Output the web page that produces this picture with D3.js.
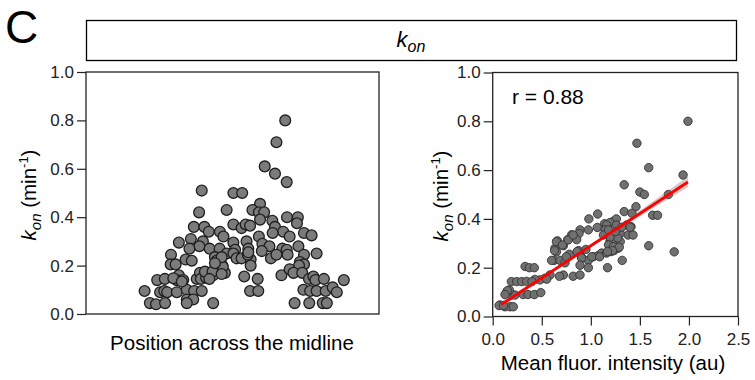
<!DOCTYPE html>
<html>
<head>
<meta charset="utf-8">
<script src="https://cdn.jsdelivr.net/npm/d3@7"></script>
<style>
  body { margin: 0; background: #fff; }
  svg { font-family: "Liberation Sans", Arial, sans-serif; }
</style>
</head>
<body>
<svg id="chart" width="755" height="380"></svg>
<script>
// left panel: position across the midline (arbitrary units) vs kon
var leftPos = [18,15,11,14.5,18.5,-10.5,0.3,3.3,-2,-11.4,9.4,6.8,9,10.8,9.4,18.6,22.3,22,13.6,14.5,17.3,13.7,19.5,24.4,27,
  -13.2,-9.6,-8.1,0.3,3.1,4.5,6,-4.3,-3.1,-14.2,-18.3,-10.1,-11.3,0.3,4.8,9,10.2,12.6,-14.7,-7.8,-4.4,-2,0.9,5.4,10,17,18.5,22.5,
  -21,-16,-13.9,-6,-5.4,0.3,1.4,3.1,6.2,5.2,13.1,15,18.8,24.4,28.7,23,-21.1,-19.4,-3.5,6.2,24.4,22.7,
  -25.7,-23.1,-18.3,-19,-16.8,-12.2,-11.1,-9.1,-10.8,-9,-6.6,-2.6,-3.3,4,8.6,16.7,19.5,20.8,23.8,26.1,27.6,28.3,31.2,38,
  -30,-24.7,-23.3,-22.3,-19,-15.6,-13.1,-10.5,-15.6,-13.4,6,8.8,24.2,26.5,28.7,31.8,34.2,35.6,
  -28.2,-26.1,-23,-15.6,-6.6,21.2,26.2,30.8,32.2,
  -9.4,-6.8,-7.9,-3.7,-3.7,-6,5.4,-20.2,-17.3];
var leftKon = [0.80,0.71,0.61,0.58,0.545,0.51,0.50,0.50,0.43,0.42,0.455,0.43,0.42,0.42,0.39,0.40,0.40,0.375,0.385,0.36,0.34,0.335,0.32,0.335,0.325,
  0.36,0.36,0.34,0.37,0.355,0.37,0.365,0.34,0.32,0.31,0.295,0.30,0.28,0.295,0.30,0.32,0.29,0.28,0.27,0.27,0.27,0.25,0.265,0.27,0.26,0.27,0.265,0.28,
  0.245,0.225,0.22,0.235,0.22,0.25,0.23,0.23,0.225,0.245,0.23,0.245,0.245,0.245,0.25,0.215,0.205,0.205,0.20,0.20,0.205,0.20,
  0.14,0.145,0.16,0.14,0.14,0.145,0.17,0.17,0.145,0.15,0.16,0.17,0.195,0.155,0.145,0.16,0.185,0.17,0.17,0.145,0.155,0.14,0.145,0.14,
  0.095,0.09,0.095,0.09,0.09,0.10,0.095,0.095,0.06,0.06,0.095,0.095,0.10,0.095,0.095,0.095,0.11,0.09,
  0.045,0.04,0.045,0.045,0.045,0.045,0.045,0.045,0.045,
  0.175,0.175,0.145,0.165,0.235,0.21,0.255,0.148,0.134];

// right panel: mean fluorescence intensity (au) vs kon
var rightFluor = [1.99,1.47,1.59,1.94,1.34,1.50,1.545,1.79,1.46,1.34,1.42,1.63,1.68,1.07,0.98,1.23,1.26,1.59,1.85,1.17,1.32,
  1.14,1.17,1.196,1.26,1.066,0.89,0.975,0.805,0.88,0.856,0.765,0.66,0.72,0.635,0.65,0.78,0.89,0.876,0.95,0.91,0.975,1.025,1.077,1.11,
  0.625,0.686,0.737,0.82,0.89,0.975,0.72,0.68,0.584,0.533,0.482,0.43,0.33,0.373,0.424,0.19,0.245,0.296,0.346,0.40,
  0.31,0.36,0.424,0.49,0.143,0.19,0.227,0.074,0.125,0.176,0.21,0.17,
  0.065,0.11,0.15,0.125,0.55,0.60,0.63,0.65,0.71,0.75,0.77,0.82,0.86,0.905,0.89,1.01,1.09,1.16,1.195,1.245,1.236,1.30,1.38,1.41,1.43,1.365,
  1.16,1.145,1.18,1.205,1.236,1.28,1.30,
  1.315,1.40,1.274,1.196,1.128,1.18,1.23,1.29,1.22,1.17,1.25,1.18];
var rightKon = [0.80,0.71,0.61,0.58,0.54,0.51,0.50,0.50,0.45,0.43,0.423,0.415,0.415,0.42,0.40,0.39,0.40,0.29,0.265,0.20,0.23,
  0.38,0.37,0.385,0.375,0.365,0.355,0.355,0.335,0.34,0.315,0.315,0.31,0.29,0.28,0.265,0.255,0.26,0.27,0.275,0.24,0.23,0.245,0.25,0.26,
  0.23,0.23,0.22,0.165,0.17,0.20,0.17,0.165,0.17,0.157,0.15,0.152,0.205,0.20,0.20,0.143,0.143,0.143,0.144,0.143,
  0.09,0.09,0.09,0.098,0.10,0.088,0.088,0.047,0.04,0.04,0.04,0.109,
  0.045,0.045,0.106,0.09,0.153,0.23,0.27,0.307,0.293,0.245,0.314,0.334,0.266,0.24,0.21,0.245,0.245,0.26,0.307,0.307,0.34,0.34,0.334,0.368,0.334,0.375,
  0.375,0.355,0.334,0.266,0.27,0.28,0.307,
  0.366,0.366,0.322,0.325,0.334,0.293,0.286,0.284,0.27,0.266,0.348,0.355];

var yTicks = [0.0, 0.2, 0.4, 0.6, 0.8, 1.0];
var xTicks = [0.0, 0.5, 1.0, 1.5, 2.0, 2.5];

// linear fit and its confidence band
var fitIntercept = 0.026, fitSlope = 0.264, fitRange = [0.085, 1.99];
var bandX    = [0.085, 0.5, 1.0, 1.5, 1.99];
var bandHalf = [0.013, 0.008, 0.007, 0.012, 0.022];
var rLabel = "r = 0.88";

var svg = d3.select("#chart");

// panel letter
svg.append("text").attr("x", 5).attr("y", 43)
  .attr("font-size", "46px").text("C");

// header box
svg.append("rect").attr("x", 86.5).attr("y", 20.5).attr("width", 650).attr("height", 40)
  .attr("fill", "none").attr("stroke", "#000").attr("stroke-width", 1.3);
var head = svg.append("text").attr("x", 411).attr("y", 47).attr("text-anchor", "middle")
  .attr("font-size", "22px");
head.append("tspan").attr("font-style", "italic").text("k");
head.append("tspan").attr("font-style", "italic").attr("font-size", "16px").attr("dy", 5).text("on");

function yTitle(g, x, y) {
  var t = g.append("text").attr("transform", "translate(" + x + "," + y + ") rotate(-90)")
    .attr("text-anchor", "middle").attr("font-size", "20.5px");
  t.append("tspan").attr("font-style", "italic").text("k");
  t.append("tspan").attr("font-style", "italic").attr("font-size", "15px").attr("dy", 5).text("on");
  t.append("tspan").attr("dy", -5).text(" (min");
  t.append("tspan").attr("font-size", "13px").attr("dy", -8).text("-1");
  t.append("tspan").attr("dy", 8).text(")");
}

function styleAxis(g) {
  g.select(".domain").remove();
  g.selectAll(".tick line").attr("stroke", "#222").attr("stroke-width", 1.2);
  g.selectAll(".tick text").attr("font-size", "17px").attr("fill", "#222")
    .attr("font-family", "Liberation Sans, Arial, sans-serif");
}

// ---------- left panel ----------
var xL = d3.scaleLinear().domain([-50, 50]).range([86, 379]);
var yL = d3.scaleLinear().domain([0, 1]).range([314, 72]);

svg.append("g").attr("transform", "translate(86,0)")
  .call(d3.axisLeft(yL).tickValues(yTicks).tickFormat(d3.format(".1f")).tickSize(9).tickPadding(3))
  .call(styleAxis);

svg.append("rect").attr("x", 86).attr("y", 72).attr("width", 293).attr("height", 242)
  .attr("fill", "none").attr("stroke", "#222").attr("stroke-width", 1.3);

svg.append("g").selectAll("circle").data(leftPos).enter().append("circle")
  .attr("cx", function(d) { return xL(d); })
  .attr("cy", function(d, i) { return yL(leftKon[i]); })
  .attr("r", 5.4)
  .attr("fill", "#7b7b7b").attr("stroke", "#1e1e1e").attr("stroke-width", 1.3);

yTitle(svg, 36, 195);
svg.append("text").attr("x", 232).attr("y", 350).attr("text-anchor", "middle")
  .attr("font-size", "20.5px").text("Position across the midline");

// ---------- right panel ----------
var xR = d3.scaleLinear().domain([0, 2.5]).range([492.7, 738]);
var yR = d3.scaleLinear().domain([0, 1]).range([316.5, 72.5]);

svg.append("g").attr("transform", "translate(492.7,0)")
  .call(d3.axisLeft(yR).tickValues(yTicks).tickFormat(d3.format(".1f")).tickSize(9).tickPadding(3))
  .call(styleAxis);
svg.append("g").attr("transform", "translate(0,316.5)")
  .call(d3.axisBottom(xR).tickValues(xTicks).tickFormat(d3.format(".1f")).tickSize(9).tickPadding(7))
  .call(styleAxis);

svg.append("rect").attr("x", 492.7).attr("y", 72.5).attr("width", 738 - 492.7).attr("height", 244)
  .attr("fill", "none").attr("stroke", "#222").attr("stroke-width", 1.3);

svg.append("g").selectAll("circle").data(rightFluor).enter().append("circle")
  .attr("cx", function(d) { return xR(d); })
  .attr("cy", function(d, i) { return yR(rightKon[i]); })
  .attr("r", 4.2)
  .attr("fill", "#707070").attr("stroke", "#333").attr("stroke-width", 0.9);

// confidence band
var band = d3.area()
  .x(function(d) { return xR(d); })
  .y0(function(d, i) { return yR(fitIntercept + fitSlope * d - bandHalf[i]); })
  .y1(function(d, i) { return yR(fitIntercept + fitSlope * d + bandHalf[i]); })
  .curve(d3.curveMonotoneX);
svg.append("path").datum(bandX).attr("d", band)
  .attr("fill", "rgba(150,100,100,0.35)");

svg.append("line")
  .attr("x1", xR(fitRange[0])).attr("y1", yR(fitIntercept + fitSlope * fitRange[0]))
  .attr("x2", xR(fitRange[1])).attr("y2", yR(fitIntercept + fitSlope * fitRange[1]))
  .attr("stroke", "#ff0000").attr("stroke-width", 2.8);

svg.append("text").attr("x", 512).attr("y", 104).attr("font-size", "21px").text(rLabel);

yTitle(svg, 448, 196);
svg.append("text").attr("x", 613).attr("y", 370).attr("text-anchor", "middle")
  .attr("font-size", "20.5px").text("Mean fluor. intensity (au)");
</script>
</body>
</html>
